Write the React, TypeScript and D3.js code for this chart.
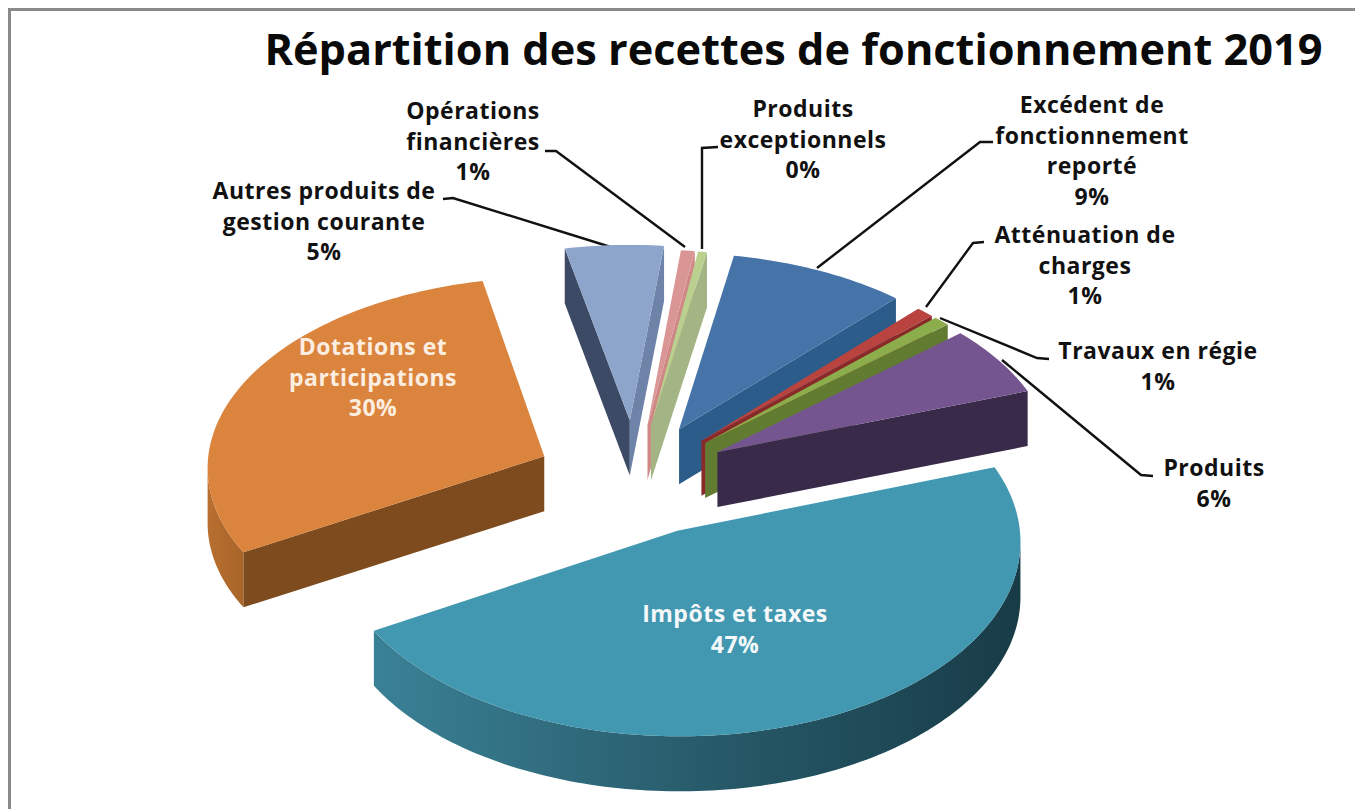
import React from "react";
import * as d3 from "d3";

const categories = ["Excédent de fonctionnement reporté","Atténuation de charges","Travaux en régie","Produits","Impôts et taxes","Dotations et participations","Autres produits de gestion courante","Opérations financières","Produits exceptionnels"];
const values = [9.0,0.9,0.85,6.0,47.0,30.0,5.0,0.7,0.45];
const explosions = [100,96,96,96,100,100,106,98,98];
const topColors = ["#4674a8","#b8433f","#8cad4c","#75558f","#4198b0","#db843d","#8ea5cb","#d99694","#b9d08f"];
const endWall = ["#2c5c89","#8a2a28","#617c31","#392a4a","#1a3d49","#7d4b1e","#6e83a8","#cf8886","#a3b584"];
const startWall = ["#2c5c89","#8a2a28","#617c31","#392a4a","#1a3d49","#7d4b1e","#3c4a66","#b07a78","#a3b584"];
const arcWallA = ["#2c5c89","#8a2a28","#617c31","#392a4a","#3a8196","#b86f30","#3c4a66","#cf8886","#a3b584"];
const arcWallB = ["#2c5c89","#8a2a28","#617c31","#392a4a","#183c47","#a96529","#3c4a66","#cf8886","#a3b584"];
const paintOrder = [0,1,2,3,6,7,8,5,4];
const titleText = "Répartition des recettes de fonctionnement 2019";

type Lab = {lines:string[]; x:number; y:number; color:string};
const labels: Lab[] = [
  {lines:["Excédent de","fonctionnement","reporté","9%"],x:1092,y:113,color:"#111"},
  {lines:["Atténuation de","charges","1%"],x:1085,y:243,color:"#111"},
  {lines:["Travaux en régie","1%"],x:1158,y:359,color:"#111"},
  {lines:["Produits","6%"],x:1214,y:476,color:"#111"},
  {lines:["Impôts et taxes","47%"],x:735,y:622,color:"#f4f8fa"},
  {lines:["Dotations et","participations","30%"],x:373,y:355,color:"#fbeee0"},
  {lines:["Autres produits de","gestion courante","5%"],x:324,y:199,color:"#111"},
  {lines:["Opérations","financières","1%"],x:473,y:119,color:"#111"},
  {lines:["Produits","exceptionnels","0%"],x:803,y:117,color:"#111"},
];
const leaders: [number,number][][] = [
  [[993,142],[980,142],[817,268]],
  [[984,242],[973,243],[926,307]],
  [[1049,359],[1037,358],[940,318]],
  [[1153,476],[1141,475],[1002,360]],
  [],[],
  [[443,199],[453,198],[614,248]],
  [[545,151],[556,151],[685,247]],
  [[718,147],[702,148],[702,249]],
];

const CX = 635, CY = 479, R = 338, V = 0.562, K = 0.05, DEPTH = 55;
const project = (X:number,Y:number):[number,number] => {
  const p = 1/(1-K*Y/R);
  return [CX+X*p, CY+Y*V*p];
};

export default function App(){
  const pie = d3.pie<number>().sort(null).startAngle(10.3*Math.PI/180).endAngle((360+10.3)*Math.PI/180);
  const arcs = pie(values);
  const line = d3.line();
  const quad = (a:[number,number],b:[number,number]) => line([a,b,[b[0],b[1]+DEPTH],[a[0],a[1]+DEPTH]])+"Z";
  return (
    <svg width={1355} height={809} style={{position:"absolute",left:0,top:0,background:"#fff"}} fontFamily="'Open Sans', sans-serif" fontWeight={700}>
      <defs>
        {arcs.map((_,i)=>(
          <linearGradient id={"w"+i} key={i} x1="0" x2="1" y1="0" y2="0">
            <stop offset="0" stopColor={arcWallA[i]}/>
            <stop offset="0.55" stopColor={d3.interpolateRgb(arcWallA[i],arcWallB[i])(0.6)}/>
            <stop offset="1" stopColor={arcWallB[i]}/>
          </linearGradient>
        ))}
      </defs>
      <path d="M9.5 809V9.5H1355" fill="none" stroke="#8a8a8a" strokeWidth={3}/>
      <text x={793.5} y={65} textAnchor="middle" fontSize={43.3} fill="#0a0a0a">{titleText}</text>
      {leaders.map((l,i)=>l.length?<path key={i} d={line(l)!} fill="none" stroke="#111" strokeWidth={2.4}/>:null)}
      {paintOrder.map(i=>{
        const a = arcs[i];
        const mid = (a.startAngle+a.endAngle)/2;
        const ox = explosions[i]*Math.sin(mid), oy = -explosions[i]*Math.cos(mid);
        const n = Math.max(2,Math.ceil((a.endAngle-a.startAngle)/0.02));
        const apex = project(ox,oy);
        const rim = d3.range(n+1).map(k=>{
          const t = a.startAngle+(a.endAngle-a.startAngle)*k/n;
          return project(ox+R*Math.sin(t),oy-R*Math.cos(t));
        });
        const top = line([apex,...rim])+"Z";
        const startFace = apex[0]>rim[0][0];
        const endFace = rim[n][0]>apex[0];
        const vis = rim.filter((p,k)=>k<n && p[0]>rim[k+1][0]);
        const visible:[number,number][] = [];
        rim.forEach((p,k)=>{ if((k<n&&p[0]>rim[k+1][0])||(k>0&&rim[k-1][0]>p[0])) visible.push(p); });
        const wall = visible.length>1 ? line([...visible,...visible.slice().reverse().map(p=>[p[0],p[1]+DEPTH] as [number,number])])+"Z" : null;
        return (
          <g key={i}>
            {wall&&vis.length?<path d={wall} fill={`url(#w${i})`}/>:null}
            {startFace?<path d={quad(apex,rim[0])} fill={startWall[i]}/>:null}
            {endFace?<path d={quad(rim[n],apex)} fill={endWall[i]}/>:null}
            <path d={top} fill={topColors[i]}/>
          </g>
        );
      })}
      {labels.map((l,i)=>(
        <text key={categories[i]} fill={l.color} fontSize={23} letterSpacing={0.5} textAnchor="middle">
          {l.lines.map((s,j)=><tspan key={j} x={l.x} y={l.y+j*30.5}>{s}</tspan>)}
        </text>
      ))}
    </svg>
  );
}
